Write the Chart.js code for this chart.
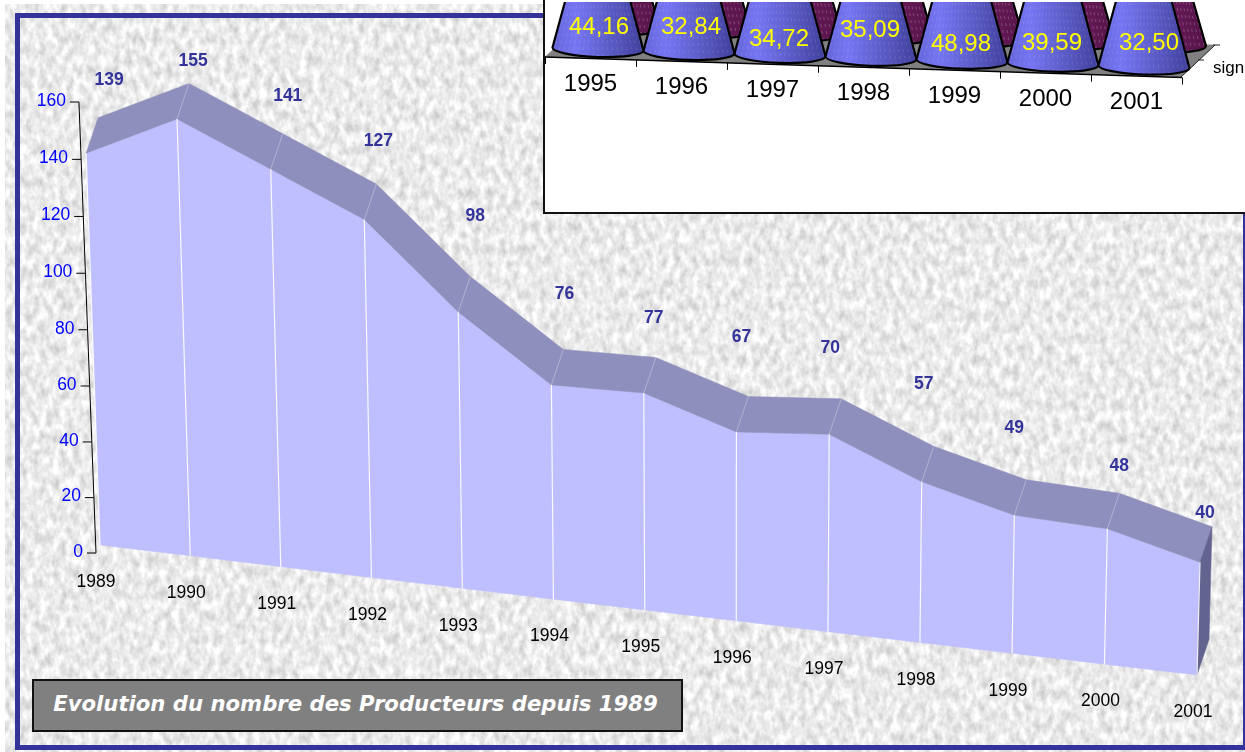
<!DOCTYPE html>
<html>
<head>
<meta charset="utf-8">
<title>Evolution du nombre des Producteurs</title>
<script src="https://cdn.jsdelivr.net/npm/chart.js@4/dist/chart.umd.min.js"></script>
<style>
  html, body { margin: 0; padding: 0; background: #fff; overflow: hidden; }
  #page { position: relative; width: 1245px; height: 752px; overflow: hidden; }
  #texture, #mainChart { position: absolute; left: 0; top: 0; }
  #frame { position: absolute; left: 15px; top: 13px; width: 1223px; height: 727px; border: 5px solid #333399; }
  #inset { position: absolute; left: 543px; top: -2px; width: 704px; height: 212px; border: 2px solid #111; background: #fff; overflow: hidden; }
  #insetChart { position: absolute; left: 0; top: 2px; }
  #caption {
    position: absolute; left: 32px; top: 679px; width: 643px; height: 49px; padding-right: 4px;
    border: 2px solid #111; background: #808080; color: #fff; text-align: center;
    font: italic bold 21.2px/46px "DejaVu Sans", sans-serif; white-space: nowrap;
  }
</style>
</head>
<body>
<div id="page">
  <svg id="texture" width="1245" height="752">
    <filter id="granite" x="0" y="0" width="100%" height="100%" color-interpolation-filters="sRGB">
      <feTurbulence type="fractalNoise" baseFrequency="0.15 0.09" numOctaves="3" seed="7"/>
      <feColorMatrix values="0.34 0 0 0 0.75  0.34 0 0 0 0.75  0.34 0 0 0 0.75  0 0 0 0 1"/>
    </filter>
    <rect x="5" y="4" width="1240" height="748" filter="url(#granite)"/>
  </svg>
  <div id="frame"></div>
  <canvas id="mainChart" width="1245" height="752"></canvas>
  <div id="inset"><canvas id="insetChart" width="700" height="210"></canvas></div>
  <div id="caption">Evolution du nombre des Producteurs depuis 1989</div>
</div>
<script>
// area chart
const years = ["1989", "1990", "1991", "1992", "1993", "1994", "1995", "1996", "1997", "1998", "1999", "2000", "2001"];
const producteurs = [139, 155, 141, 127, 98, 76, 77, 67, 70, 57, 49, 48, 40];
const yTicks = [0, 20, 40, 60, 80, 100, 120, 140, 160];

// cones in the box top right
const insetYears = ["1995", "1996", "1997", "1998", "1999", "2000", "2001"];
const insetValues = [44.16, 32.84, 34.72, 35.09, 48.98, 39.59, 32.5];
const insetRearValues = [34, 30, 31, 33, 36, 32, 30]; // only the foot is visible, estimated

// label nudges, px
const labelNudge = [[11, -38], [4, -22], [5, -38], [2, -43], [5, -60], [1, -55], [-2, -39], [-7, -59], [-11, -51], [-10, -62], [-12, -52], [0, -27], [-7, -14]];
const insetLabelNudge = [[1, -22], [2, -25], [-1, -15], [-1, -27], [-1, -16], [-1, -20], [5, -23]];

const FONT = "'Liberation Sans', Arial, sans-serif";

// view of the 3d area chart
const SLOPE = 0.1185;            // floor goes down to the right
const LEAN_L = -0.0355;          // walls lean out left and right
const LEAN_R = 0.0266;
const BOW = 15;                  // years sit a little closer on the left
const DEPTH = [12, -35.5];
const AXIS_LEAN = 0.0378;

// x axis whose labels and ticks follow the slanted floor
class SlantCategoryScale extends Chart.CategoryScale {
  static id = "slantCategory";
  static defaults = Chart.CategoryScale.defaults;

  floorY(x) {
    return this.chart.chartArea.bottom + this.options.slope * (x - this.chart.chartArea.left);
  }
  _computeLabelArea() {
    return undefined; // labels leave the flat scale box
  }
  _computeLabelItems(chartArea) {
    const items = super._computeLabelItems(chartArea);
    const o = this.options;
    const a = this.chart.chartArea;
    items.forEach((item, i) => {
      const x = this.getPixelForTick(i);
      const t = (x - a.left) / (a.right - a.left);
      item.textOffset = 0;
      item.options.textAlign = "center";
      item.options.textBaseline = "middle";
      item.options.translation = [x + o.labelDx - o.bow * t * (1 - t), this.floorY(x) + o.labelDy];
    });
    return items;
  }
  _computeGridLineItems(chartArea) {
    const items = super._computeGridLineItems(chartArea);
    const o = this.options;
    items.forEach(item => {
      const y = this.floorY(item.tx1) + o.axisDy;
      item.ty1 = y;
      item.ty2 = y + o.grid.tickLength;
      item.tx2 = item.tx1;
    });
    return items;
  }
  drawBorder() {
    const o = this.options;
    if (!o.border.display) return;
    const a = this.chart.chartArea;
    const ctx = this.ctx;
    ctx.save();
    ctx.strokeStyle = o.border.color;
    ctx.lineWidth = o.border.width;
    ctx.beginPath();
    ctx.moveTo(a.left, this.floorY(a.left) + o.axisDy);
    ctx.lineTo(a.right, this.floorY(a.right) + o.axisDy);
    ctx.stroke();
    ctx.restore();
  }
}

// y axis leaning along the left wall
class SlantLinearScale extends Chart.LinearScale {
  static id = "slantLinear";
  static defaults = Chart.LinearScale.defaults;

  at(py) {
    const a = this.chart.chartArea;
    const t = (a.bottom - py) / (a.bottom - a.top);
    return [96 - (a.bottom - py) * AXIS_LEAN, py + 8 + 9 * t * (1 - t)];
  }
  _computeLabelArea() {
    return undefined;
  }
  _computeLabelItems(chartArea) {
    const items = super._computeLabelItems(chartArea);
    items.forEach((item, i) => {
      const p = this.at(this.getPixelForTick(i));
      item.textOffset = 0;
      item.options.textAlign = "right";
      item.options.textBaseline = "middle";
      item.options.translation = [p[0] - 13, p[1] - 1];
    });
    return items;
  }
  _computeGridLineItems(chartArea) {
    const items = super._computeGridLineItems(chartArea);
    items.forEach((item, i) => {
      const p = this.at(this.getPixelForTick(i));
      item.tx1 = p[0] - 9;
      item.ty1 = p[1];
      item.tx2 = p[0];
      item.ty2 = p[1];
    });
    return items;
  }
  drawBorder() {
    const a = this.chart.chartArea;
    const p0 = this.at(a.bottom), p1 = this.at(a.top);
    const ctx = this.ctx;
    ctx.save();
    ctx.strokeStyle = "#000";
    ctx.lineWidth = 1;
    ctx.beginPath();
    ctx.moveTo(p0[0], p0[1]);
    ctx.lineTo(p1[0], p1[1]);
    ctx.stroke();
    ctx.restore();
  }
}
Chart.register(SlantCategoryScale, SlantLinearScale);

function polygon(ctx, pts, color) {
  ctx.fillStyle = color;
  ctx.beginPath();
  pts.forEach((p, i) => i ? ctx.lineTo(p[0], p[1]) : ctx.moveTo(p[0], p[1]));
  ctx.closePath();
  ctx.fill();
  // closes hairline gaps between faces
  ctx.strokeStyle = color;
  ctx.lineWidth = 0.5;
  ctx.stroke();
}

function floorPoint(chart, i) {
  const a = chart.chartArea;
  const x = chart.scales.x.getPixelForValue(i);
  const t = (x - a.left) / (a.right - a.left);
  return [x - BOW * t * (1 - t), a.bottom + SLOPE * (x - a.left), t];
}

const areaPlugin = {
  id: "area3d",
  afterDatasetsUpdate(chart) {
    const a = chart.chartArea;
    chart.getDatasetMeta(0).data.forEach((pt, i) => {
      const f = floorPoint(chart, i);
      const h = a.bottom - chart.scales.y.getPixelForValue(producteurs[i]);
      pt.x = f[0] + h * (LEAN_L + (LEAN_R - LEAN_L) * f[2]);
      pt.y = f[1] - h;
    });
  },
  beforeDatasetsDraw(chart) {
    const ctx = chart.ctx;
    const pts = chart.getDatasetMeta(0).data;
    const floor = i => floorPoint(chart, i);
    const back = p => [p[0] + DEPTH[0], p[1] + DEPTH[1]];
    ctx.save();
    // front wall
    const front = pts.map(p => [p.x, p.y]);
    const feet = pts.map((p, i) => floor(i)).reverse();
    polygon(ctx, front.concat(feet), "#bfbfff");
    // top band
    polygon(ctx, front.concat(front.map(back).reverse()), "#8f8fbd");
    // side at the end
    const last = pts.length - 1;
    polygon(ctx, [front[last], back(front[last]), back(floor(last)), floor(last)], "#63638f");
    // year lines
    pts.forEach((p, i) => {
      const f = floor(i);
      const b = back([p.x, p.y]);
      ctx.strokeStyle = "rgba(255,255,255,0.9)";
      ctx.lineWidth = 1.2;
      ctx.beginPath();
      ctx.moveTo(f[0], f[1]);
      ctx.lineTo(p.x, p.y);
      ctx.stroke();
      if (i < last && i > 0) {
        ctx.strokeStyle = "rgba(255,255,255,0.3)";
        ctx.lineWidth = 1;
        ctx.beginPath();
        ctx.moveTo(p.x, p.y);
        ctx.lineTo(b[0], b[1]);
        ctx.stroke();
      }
    });
    ctx.restore();
  },
  afterDatasetsDraw(chart) {
    const ctx = chart.ctx;
    ctx.save();
    ctx.font = "bold 17.5px " + FONT;
    ctx.fillStyle = "#333399";
    ctx.textAlign = "center";
    ctx.textBaseline = "middle";
    chart.getDatasetMeta(0).data.forEach((p, i) => {
      ctx.fillText(String(producteurs[i]), p.x + DEPTH[0] + labelNudge[i][0], p.y + DEPTH[1] + labelNudge[i][1]);
    });
    ctx.restore();
  }
};

new Chart(document.getElementById("mainChart"), {
  type: "line",
  data: {
    labels: years,
    datasets: [{ label: "Producteurs", data: producteurs, borderWidth: 0, borderColor: "rgba(0,0,0,0)", pointRadius: 0, fill: false, tension: 0, clip: false }]
  },
  options: {
    responsive: false,
    animation: false,
    layout: { padding: { left: 100, right: 48, top: 94, bottom: 207 } },
    plugins: { legend: { display: false }, tooltip: { enabled: false } },
    scales: {
      x: {
        type: "slantCategory",
        slope: SLOPE, labelDx: -4, labelDy: 37.5, axisDy: 0, bow: BOW,
        grid: { display: false },
        border: { display: false },
        ticks: { color: "#000", font: { family: FONT, size: 17.5 }, autoSkip: false, maxRotation: 0 },
        afterFit: s => { s.height = 0; }
      },
      y: {
        type: "slantLinear",
        min: 0, max: 160,
        afterBuildTicks: s => { s.ticks = yTicks.map(v => ({ value: v })); },
        grid: { display: true, drawOnChartArea: false, drawTicks: true, color: "#000", lineWidth: 1 },
        ticks: { color: "#0000ff", font: { family: FONT, size: 17.5 } },
        afterFit: s => { s.width = 0; }
      }
    }
  },
  plugins: [areaPlugin]
});

// cones
const CONE_SLOPE = 0.0322;
const CONE_TILT = Math.atan(CONE_SLOPE);
const CONE_DX = 7.5;   // cones stand behind the front edge of the floor
const REAR = { dx: 20, dy: -22 };

function drawCone(ctx, cx, by, hw, h, taper, stops, alpha) {
  const top = hw - taper * h;
  const ry = 8;
  const c = Math.cos(CONE_TILT), s = Math.sin(CONE_TILT);
  ctx.beginPath();
  ctx.moveTo(cx - hw * c, by - hw * s);
  ctx.lineTo(cx - top, by - h);
  ctx.lineTo(cx + top, by - h);
  ctx.lineTo(cx + hw * c, by + hw * s);
  ctx.ellipse(cx, by, hw, ry, CONE_TILT, 0, Math.PI);
  ctx.closePath();
  const g = ctx.createLinearGradient(cx - hw, 0, cx + hw, 0);
  stops.forEach(st => g.addColorStop(st[0], st[1]));
  ctx.fillStyle = g;
  ctx.fill();
  // faint dashes along the surface
  ctx.save();
  ctx.clip();
  ctx.strokeStyle = "rgba(255,255,255," + alpha + ")";
  ctx.lineWidth = 1;
  ctx.setLineDash([3, 4]);
  for (let k = -9; k <= 9; k++) {
    const u = k / 9;
    ctx.beginPath();
    ctx.moveTo(cx + u * hw, by + 8);
    ctx.lineTo(cx + u * top, by - h);
    ctx.stroke();
  }
  ctx.restore();
  ctx.strokeStyle = "#000";
  ctx.lineWidth = 2.2;
  ctx.beginPath();
  ctx.moveTo(cx - top, by - h);
  ctx.lineTo(cx - hw * c, by - hw * s);
  ctx.ellipse(cx, by, hw, ry, CONE_TILT, Math.PI, 0, true);
  ctx.lineTo(cx + top, by - h);
  ctx.stroke();
}

const conePlugin = {
  id: "cones",
  beforeDraw(chart) {
    const ctx = chart.ctx;
    const px = x => x - 545; // box starts at 545 on the page
    ctx.save();
    polygon(ctx, [[0, 55], [px(1181), 75], [px(1215), 43], [px(580), 23]], "#808080");
    ctx.strokeStyle = "#222";
    ctx.lineWidth = 1;
    ctx.beginPath();
    ctx.moveTo(px(1181), 75); ctx.lineTo(px(1215), 43);
    ctx.moveTo(px(1198), 58); ctx.lineTo(px(1204), 58);
    ctx.moveTo(px(1213), 43); ctx.lineTo(px(1220), 43);
    ctx.stroke();
    ctx.font = "17px " + FONT;
    ctx.fillStyle = "#000";
    ctx.textBaseline = "middle";
    ctx.fillText("sign", px(1213), 66);
    ctx.restore();
  },
  afterDatasetsUpdate(chart) {
    const a = chart.chartArea;
    chart.data.datasets.forEach((ds, d) => {
      chart.getDatasetMeta(d).data.forEach(bar => {
        const sh = CONE_SLOPE * (bar.x - a.left - 45.5);
        bar.x += CONE_DX;
        bar.y += sh;
        bar.base += sh;
      });
    });
  },
  afterDatasetsDraw(chart) {
    const ctx = chart.ctx;
    const rear = chart.getDatasetMeta(1).data;
    const front = chart.getDatasetMeta(0).data;
    ctx.save();
    rear.forEach(b => drawCone(ctx, b.x + REAR.dx, b.base + REAR.dy, 42, b.base - b.y, 0.29,
      [[0, "#5e1650"], [0.5, "#6c1c5c"], [1, "#551348"]], 0.22));
    front.forEach(b => drawCone(ctx, b.x, b.base, 45.5, b.base - b.y, 0.27,
      [[0, "#6565d8"], [0.25, "#7676f4"], [0.65, "#5a5ac4"], [1, "#40409c"]], 0.12));
    ctx.font = "24px " + FONT;
    ctx.fillStyle = "#ffff00";
    ctx.textAlign = "center";
    ctx.textBaseline = "middle";
    front.forEach((b, i) => {
      ctx.fillText(insetValues[i].toFixed(2).replace(".", ","), b.x + insetLabelNudge[i][0], b.base + insetLabelNudge[i][1]);
    });
    ctx.restore();
  }
};

new Chart(document.getElementById("insetChart"), {
  type: "bar",
  data: {
    labels: insetYears,
    datasets: [
      { label: "front", data: insetValues, backgroundColor: "rgba(0,0,0,0)", grouped: false, clip: false },
      { label: "sign", data: insetRearValues, backgroundColor: "rgba(0,0,0,0)", grouped: false, clip: false }
    ]
  },
  options: {
    responsive: false,
    animation: false,
    barPercentage: 1,
    categoryPercentage: 1,
    layout: { padding: { left: 0, right: 63, top: 0, bottom: 163 } },
    plugins: { legend: { display: false }, tooltip: { enabled: false } },
    scales: {
      x: {
        type: "slantCategory",
        slope: CONE_SLOPE, labelDx: 0, labelDy: 34, axisDy: 8, bow: 0,
        grid: { display: true, drawOnChartArea: false, drawTicks: true, tickLength: 7, color: "#000", lineWidth: 1 },
        border: { display: true, color: "#000", width: 1.5 },
        ticks: { color: "#000", font: { family: FONT, size: 24 }, autoSkip: false, maxRotation: 0 },
        afterFit: s => { s.height = 0; }
      },
      y: { display: false, min: 0, max: 12 }
    }
  },
  plugins: [conePlugin]
});
</script>
</body>
</html>
